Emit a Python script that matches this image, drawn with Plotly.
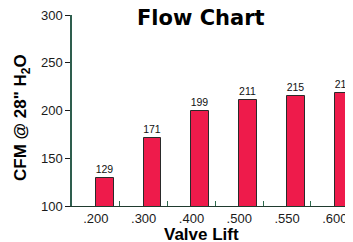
import plotly.graph_objects as go

categories = [".200", ".300", ".400", ".500", ".550", ".600"]
cfm_values = [129, 171, 199, 211, 215, 218]
y_ticks = [100, 150, 200, 250, 300]

# page body has an 8px margin; the figure is sized so it ends at the window edge
OFF = 8
W, H = 353 - OFF, 242 - OFF
ML, MR, MT, MB = 72 - OFF, 0, 15 - OFF, 36
PW = W - ML - MR
PH = H - MT - MB

fig = go.Figure()
fig.add_trace(go.Bar(
    x=categories, y=cfm_values,
    width=0.37, offset=0,
    marker=dict(color="#EE1B4B", line=dict(color="#2a2a2a", width=1)),
    text=[str(v) for v in cfm_values], textposition="outside",
    constraintext="none",
    textfont=dict(family="Liberation Sans, Arial", size=10.5, color="#111"),
    cliponaxis=False,
))

fig.update_layout(
    width=W, height=H,
    margin=dict(l=ML, r=MR, t=MT, b=MB, autoexpand=False),
    paper_bgcolor="white", plot_bgcolor="white",
    showlegend=False,
    bargap=0,
    xaxis=dict(
        type="category", range=[-0.5, 5.38],
        showline=True, linecolor="#1f3a2e", linewidth=1,
        ticks="inside", tickson="boundaries", ticklen=5, tickcolor="#2E6B4E",
        tickfont=dict(family="Liberation Sans, Arial", size=13, color="#1a1a1a"),
        showgrid=False, zeroline=False, automargin=False,
        ticklabeloverflow="allow",
    ),
    yaxis=dict(
        range=[100, 300], tickvals=y_ticks,
        showline=True, linecolor="#2E5E4E", linewidth=1.5,
        ticks="outside", ticklen=5, tickcolor="#1a1a1a",
        tickfont=dict(family="Liberation Sans, Arial", size=13, color="#1a1a1a"),
        showgrid=False, zeroline=False, automargin=False,
        ticklabeloverflow="allow",
    ),
    annotations=[
        dict(text="<b>Flow Chart</b>", xref="paper", yref="paper",
             x=(201 - 72) / PW, y=1, xanchor="center", yanchor="top",
             yshift=MT + 4, showarrow=False,
             font=dict(family="DejaVu Sans", size=21, color="black")),
        dict(text="<b>Valve Lift</b>", xref="paper", yref="paper",
             x=(201 - 72) / PW, y=0, xanchor="center", yanchor="top",
             yshift=-17, showarrow=False,
             font=dict(family="Liberation Sans, Arial", size=17, color="black")),
        dict(text="<b>CFM @ 28\" H<sub>2</sub>O</b>", xref="paper", yref="paper",
             x=0, y=(206 - 118) / PH, xanchor="center", yanchor="middle",
             xshift=-(72 - 22), textangle=-90, showarrow=False,
             font=dict(family="Liberation Sans, Arial", size=17, color="black")),
    ],
)

fig.write_html("out.html")
